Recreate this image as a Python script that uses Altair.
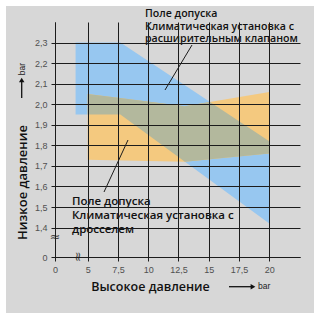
import altair as alt
import pandas as pd

# ---- data ----
x_ticks = [2.3, 5, 7.5, 10, 12.5, 15, 17.5, 20]          # 2.3 = broken-axis "0"
y_ticks = [1.257, 1.4, 1.5, 1.6, 1.7, 1.8, 1.9, 2.0, 2.1, 2.2, 2.3]  # 1.257 = broken-axis "0"

blue_x = [4.0, 7.7, 20.0]
blue_top = [2.30, 2.30, 1.82]
blue_bottom = [1.95, 1.95, 1.42]

orange_x = [5.0, 13.0, 20.0]
orange_top = [2.05, 1.99, 2.06]
orange_bottom = [1.73, 1.72, 1.76]

label_top = ["Поле допуска", "Климатическая установка с", "расширительным клапаном"]
label_bottom = ["Поле допуска", "Климатическая установка с", "дросселем"]
x_title = "Высокое давление"
y_title = "Низкое давление"
unit = "bar"

BLUE = "#97c7f0"
ORANGE = "#f4c97f"
GREEN = "#b3b89d"
PANEL = "#d7d7d7"


def interp(xs, ys, x):
    for i in range(len(xs) - 1):
        if xs[i] <= x <= xs[i + 1]:
            t = (x - xs[i]) / (xs[i + 1] - xs[i])
            return ys[i] + t * (ys[i + 1] - ys[i])
    return None


# overlap of the two bands, computed from the chains above
lo, hi = max(blue_x[0], orange_x[0]), min(blue_x[-1], orange_x[-1])
xs = sorted(set([v for v in blue_x + orange_x if lo <= v <= hi] + [lo, hi]))
cand = list(xs)
for a, b in zip(xs[:-1], xs[1:]):
    for f1, f2 in ((blue_top, orange_top), (blue_bottom, orange_bottom)):
        d_a = interp(blue_x, f1, a) - interp(orange_x, f2, a)
        d_b = interp(blue_x, f1, b) - interp(orange_x, f2, b)
        if d_a * d_b < 0:
            cand.append(a + (b - a) * d_a / (d_a - d_b))
cand = sorted(set(cand))
green = pd.DataFrame({
    "x": cand,
    "top": [min(interp(blue_x, blue_top, v), interp(orange_x, orange_top, v)) for v in cand],
    "bottom": [max(interp(blue_x, blue_bottom, v), interp(orange_x, orange_bottom, v)) for v in cand],
})
blue = pd.DataFrame({"x": blue_x, "top": blue_top, "bottom": blue_bottom})
orange = pd.DataFrame({"x": orange_x, "top": orange_top, "bottom": orange_bottom})

W, H = 245, 235
FONT = "Open Sans"

x_enc = alt.X(
    "x:Q",
    scale=alt.Scale(domain=[2.3, 22.537], zero=False, nice=False),
    axis=alt.Axis(
        values=x_ticks,
        labelExpr="datum.value < 3 ? '0' : replace(format(datum.value, '.1~f'), '.', ',')",
        grid=True, gridColor="#1c1c1c", gridWidth=1, gridOpacity=1,
        domain=True, domainColor="#1c1c1c", domainWidth=1,
        ticks=True, tickColor="#1c1c1c", tickSize=4,
        labelFont="Liberation Sans", labelFontSize=9, labelColor="#505050",
        labelPadding=4, labelOverlap=False, labelFlush=False,
        title=x_title, titleFont=FONT, titleFontSize=12.5, titleFontWeight=600,
        titleColor="#111111", titleX=95, titleY=29, titleAlign="center",
        titleBaseline="middle", zindex=1,
    ),
)
y_enc = alt.Y(
    "top:Q",
    scale=alt.Scale(domain=[1.257, 2.40], zero=False, nice=False),
    axis=alt.Axis(
        values=y_ticks,
        labelExpr="datum.value < 1.3 ? '0' : replace(format(datum.value, '.1f'), '.', ',')",
        grid=True, gridColor="#1c1c1c", gridWidth=1, gridOpacity=1,
        domain=True, domainColor="#1c1c1c", domainWidth=1,
        ticks=True, tickColor="#1c1c1c", tickSize=4,
        labelFont="Liberation Sans", labelFontSize=9, labelColor="#505050",
        labelPadding=4, labelOverlap=False, labelFlush=False,
        title=y_title, titleFont=FONT, titleFontSize=13, titleFontWeight=600,
        titleColor="#111111", titleX=-33, titleY=160, titleAlign="center",
        titleBaseline="middle", zindex=1,
    ),
)

one = pd.DataFrame({"k": [0]})

panel = alt.Chart(one).mark_rect(color=PANEL).encode(
    x=alt.value(-49), x2=alt.value(259), y=alt.value(-16), y2=alt.value(291)
)

def band(df, color):
    return alt.Chart(df).mark_area(color=color, opacity=1, interpolate="linear").encode(
        x=x_enc, y=y_enc, y2="bottom:Q"
    )

blue_l = band(blue, BLUE)
orange_l = band(orange, ORANGE)
green_l = band(green, GREEN)

lead1 = alt.Chart(one).mark_rule(color="#1c1c1c", strokeWidth=1).encode(
    x=alt.value(192 - 55), y=alt.value(45 - 22), x2=alt.value(165 - 55), y2=alt.value(90 - 22)
)
lead2 = alt.Chart(one).mark_rule(color="#1c1c1c", strokeWidth=1).encode(
    x=alt.value(128 - 55), y=alt.value(140 - 22), x2=alt.value(104 - 55), y2=alt.value(192 - 22)
)

txt_top = alt.Chart(one).mark_text(
    text=label_top, align="left", baseline="middle", lineHeight=12.5,
    font=FONT, fontSize=10.6, fontWeight=600, color="#111111"
).encode(x=alt.value(145 - 55), y=alt.value(14 - 22))

txt_bot = alt.Chart(one).mark_text(
    text=label_bottom, align="left", baseline="middle", lineHeight=14,
    font=FONT, fontSize=11.5, fontWeight=600, color="#111111"
).encode(x=alt.value(72 - 55), y=alt.value(202 - 22))

# unit arrows
xarrow = alt.Chart(one).mark_rule(color="#111111", strokeWidth=1.3).encode(
    x=alt.value(229 - 55), x2=alt.value(252 - 55), y=alt.value(286.7 - 22)
)
xhead = alt.Chart(one).mark_point(shape="triangle-right", filled=True, color="#111111", size=30, opacity=1).encode(
    x=alt.value(253 - 55), y=alt.value(286.7 - 22)
)
xunit = alt.Chart(one).mark_text(text=unit, align="left", baseline="middle", font="Liberation Sans",
                                 fontSize=8.5, color="#222222").encode(
    x=alt.value(258 - 55), y=alt.value(286 - 22)
)
yarrow = alt.Chart(one).mark_rule(color="#111111", strokeWidth=1.3).encode(
    x=alt.value(21.7 - 55), y=alt.value(98 - 22), y2=alt.value(82 - 22)
)
yhead = alt.Chart(one).mark_point(shape="triangle-up", filled=True, color="#111111", size=30, opacity=1).encode(
    x=alt.value(21.7 - 55), y=alt.value(80 - 22)
)
yunit = alt.Chart(one).mark_text(text=unit, align="center", baseline="middle", font="Liberation Sans",
                                 fontSize=8.5, color="#222222", angle=270).encode(
    x=alt.value(21.7 - 55), y=alt.value(69 - 22)
)

# axis-break marks
brk_x = alt.Chart(one).mark_text(text="≈", align="center", baseline="middle", fontSize=13,
                                 font="DejaVu Sans", color="#444444", angle=90).encode(
    x=alt.value(78 - 55), y=alt.value(256.7 - 22)
)
brk_y = alt.Chart(one).mark_text(text="≈", align="center", baseline="middle", fontSize=13,
                                 font="DejaVu Sans", color="#444444").encode(
    x=alt.value(55 - 55), y=alt.value(237 - 22)
)

chart = alt.layer(
    panel, blue_l, orange_l, green_l, lead1, lead2, txt_top, txt_bot,
    xarrow, xhead, xunit, yarrow, yhead, yunit, brk_x, brk_y
).properties(
    width=W, height=H,
    autosize=alt.AutoSizeParams(type="none"),
    padding={"left": 55, "top": 22, "right": 21, "bottom": 63},
    background="white",
).configure_view(stroke=None)

chart.save("out.html", embed_options={"renderer": "svg", "actions": False})
